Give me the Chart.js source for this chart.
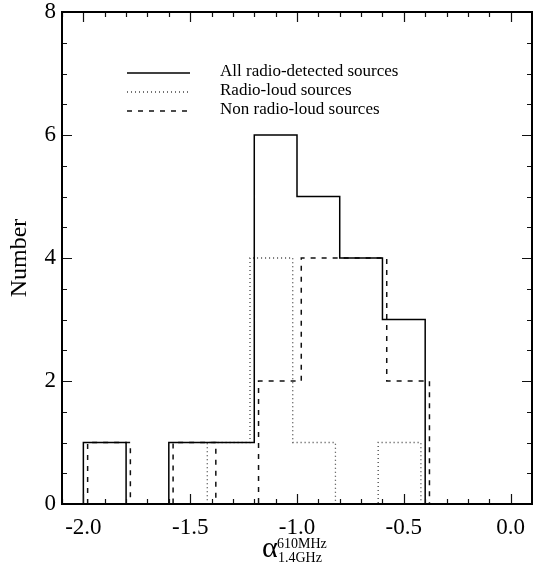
<!DOCTYPE html>
<html>
<head>
<meta charset="utf-8">
<script src="https://cdn.jsdelivr.net/npm/chart.js@4/dist/chart.umd.min.js"></script>
<style>
  body { margin: 0; background: #fff; }
</style>
</head>
<body>
<canvas id="histChart" width="533" height="563"></canvas>
<script>
// bin left edges, bins are 0.2 wide, last entry is the closing edge
const binEdges = [-2.0, -1.8, -1.6, -1.4, -1.2, -1.0, -0.8, -0.6, -0.4];
const allCounts = [1, 0, 1, 1, 6, 5, 4, 3];
const loudCounts = [0, 0, 0, 1, 4, 1, 0, 1];
const nonLoudCounts = [1, 0, 1, 0, 2, 4, 4, 2];
const seriesLabels = ["All radio-detected sources", "Radio-loud sources", "Non radio-loud sources"];
const xTickValues = [-2.0, -1.5, -1.0, -0.5, 0.0];
const yTickValues = [0, 2, 4, 6, 8];

const SERIF = "'Liberation Serif', 'DejaVu Serif', serif";

// histogram outline as step points (shift keeps overlapping outlines apart)
function histPoints(counts, shift) {
  const pts = [{ x: binEdges[0] + shift, y: 0 }];
  counts.forEach((c, i) => pts.push({ x: binEdges[i] + shift, y: c }));
  pts.push({ x: binEdges[binEdges.length - 1] + shift, y: 0 });
  return pts;
}

const framePlugin = {
  id: "frame",
  afterDatasetsDraw(chart) {
    const { ctx, chartArea: a, scales } = chart;
    const x = scales.x, y = scales.y;
    ctx.save();
    ctx.strokeStyle = "#111";
    ctx.lineWidth = 1.2;
    ctx.beginPath();
    for (let i = -21; i <= 1; i++) {
      const px = Math.round(x.getPixelForValue(i / 10)) + 0.5;
      const len = i % 5 === 0 ? 10 : 5;
      ctx.moveTo(px, a.bottom); ctx.lineTo(px, a.bottom - len);
      ctx.moveTo(px, a.top); ctx.lineTo(px, a.top + len);
    }
    for (let j = 0; j <= 16; j++) {
      const py = Math.round(y.getPixelForValue(j / 2)) + 0.5;
      const len = j % 4 === 0 ? 10 : 5;
      ctx.moveTo(a.left, py); ctx.lineTo(a.left + len, py);
      ctx.moveTo(a.right, py); ctx.lineTo(a.right - len, py);
    }
    ctx.stroke();
    ctx.lineWidth = 2;
    ctx.strokeStyle = "#000";
    ctx.strokeRect(a.left, a.top, a.right - a.left, a.bottom - a.top);
    ctx.restore();
  },
  afterDraw(chart) {
    const { ctx, chartArea: a } = chart;
    ctx.save();
    // legend
    chart.data.datasets.forEach((ds, i) => {
      const ly = a.top + 61 + i * 19;
      ctx.beginPath();
      ctx.strokeStyle = ds.borderColor;
      ctx.lineWidth = ds.borderWidth;
      ctx.setLineDash(ds.borderDash || []);
      ctx.moveTo(a.left + 65, ly);
      ctx.lineTo(a.left + 128, ly);
      ctx.stroke();
      ctx.setLineDash([]);
      ctx.fillStyle = "#000";
      ctx.font = "17px " + SERIF;
      ctx.textBaseline = "middle";
      ctx.fillText(ds.label, a.left + 158, ly - 1);
    });
    // x axis title: alpha with super/subscript
    const cx = (a.left + a.right) / 2;
    ctx.textBaseline = "alphabetic";
    ctx.font = "30px " + SERIF;
    ctx.fillText("α", cx - 35, 557);
    ctx.font = "14px " + SERIF;
    ctx.fillText("610MHz", cx - 20, 548);
    ctx.fillText("1.4GHz", cx - 19, 562);
    ctx.restore();
  }
};

new Chart(document.getElementById("histChart").getContext("2d"), {
  type: "line",
  data: {
    datasets: [
      {
        label: seriesLabels[0],
        data: histPoints(allCounts, 0),
        borderColor: "#000",
        borderWidth: 1.5,
        stepped: true,
        pointRadius: 0,
        fill: false,
      },
      {
        label: seriesLabels[1],
        data: histPoints(loudCounts, -0.02),
        borderColor: "#444",
        borderWidth: 1.3,
        borderDash: [1, 3],
        stepped: true,
        pointRadius: 0,
        fill: false,
      },
      {
        label: seriesLabels[2],
        data: histPoints(nonLoudCounts, 0.02),
        borderColor: "#111",
        borderWidth: 1.5,
        borderDash: [5, 6],
        stepped: true,
        pointRadius: 0,
        fill: false,
      },
    ],
  },
  options: {
    responsive: false,
    animation: false,
    layout: { padding: { top: 12, right: 1, left: 0, bottom: 0 } },
    plugins: {
      legend: { display: false },
      tooltip: { enabled: false },
    },
    scales: {
      x: {
        type: "linear",
        min: -2.1,
        max: 0.1,
        grid: { display: false, drawTicks: false },
        border: { display: false },
        afterBuildTicks: (scale) => {
          scale.ticks = xTickValues.map((v) => ({ value: v }));
        },
        afterFit: (scale) => {
          scale.height = 59;
          scale.paddingLeft = 0;
          scale.paddingRight = 0;
        },
        ticks: {
          color: "#000",
          font: { family: SERIF, size: 23, lineHeight: 1 },
          padding: 12,
          maxRotation: 0,
          callback: (v) => Number(v).toFixed(1),
        },
      },
      y: {
        min: 0,
        max: 8,
        grid: { display: false, drawTicks: false },
        border: { display: false },
        afterBuildTicks: (scale) => {
          scale.ticks = yTickValues.map((v) => ({ value: v }));
        },
        afterFit: (scale) => {
          scale.width = 62;
          scale.paddingTop = 0;
          scale.paddingBottom = 0;
        },
        ticks: {
          color: "#000",
          font: { family: SERIF, size: 23, lineHeight: 1 },
          padding: 6,
        },
        title: {
          display: true,
          text: "Number",
          color: "#000",
          font: { family: SERIF, size: 24, lineHeight: 1 },
          padding: { top: 8, bottom: 0 },
        },
      },
    },
  },
  plugins: [framePlugin],
});
</script>
</body>
</html>
